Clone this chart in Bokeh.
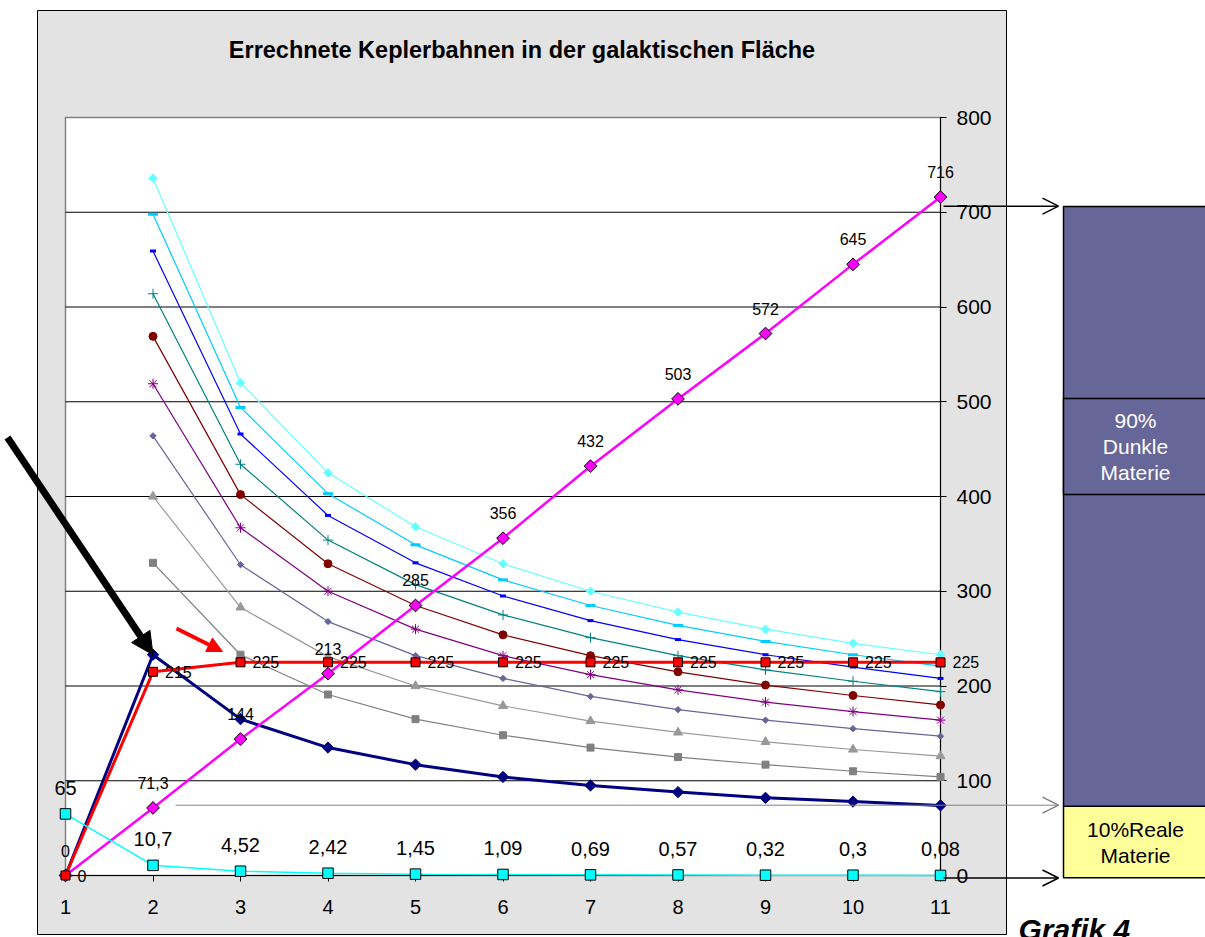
from bokeh.plotting import figure
from bokeh.models import Range1d, LinearAxis, FixedTicker, Arrow, OpenHead, NormalHead
from bokeh.core.properties import value
from bokeh.embed import file_html
from bokeh.resources import INLINE

# ---------------- data ----------------
categories = [1, 2, 3, 4, 5, 6, 7, 8, 9, 10, 11]
kepler_x = categories[1:]

curve_lightcyan = [736, 520, 425, 368, 329, 300, 278, 260, 245, 233]
curve_skyblue = [698, 494, 403, 349, 312, 285, 264, 247, 233, 221]
curve_blue = [659, 466, 380, 330, 295, 269, 249, 233, 220, 208]
curve_teal = [614, 434, 354, 307, 275, 251, 232, 217, 205, 194]
curve_darkred = [569, 402, 329, 285, 254, 232, 215, 201, 190, 180]
curve_purple = [519, 367, 300, 260, 232, 212, 196, 183, 173, 164]
curve_slate = [464, 328, 268, 232, 208, 189, 175, 164, 155, 147]
curve_grey_tri = [400, 283, 231, 200, 179, 163, 151, 141, 133, 126]
curve_grey_sq = [330, 233, 191, 165, 148, 135, 125, 117, 110, 104]

navy_kepler = [0, 233, 165, 135, 117, 104, 95, 88, 82, 78, 74]
pink_linear = [0, 71.3, 144, 213, 285, 356, 432, 503, 572, 645, 716]
red_flat = [0, 215, 225, 225, 225, 225, 225, 225, 225, 225, 225]
cyan_real = [65, 10.7, 4.52, 2.42, 1.45, 1.09, 0.69, 0.57, 0.32, 0.3, 0.08]

y_ticks = [0, 100, 200, 300, 400, 500, 600, 700, 800]

matter_edges = [-2.5, 73, 706]          # stacked bar: real matter / dark matter
matter_colors = ["#FFFF99", "#666699"]
matter_text = ["10%Reale\nMaterie", "90%\nDunkle\nMaterie"]

title_text = "Errechnete Keplerbahnen in der galaktischen Fläche"
caption_text = "Grafik 4"

# ---------------- page geometry ----------------
W, H = 1205, 937
FIG_L, FIG_T = 0, 0           # page offset of the figure
X1_PAGE, PX_PER_X = 65.0, 87.5
Y0_PAGE, PX_PER_Y = 875.0, 758.0 / 800.0


def dx(px):
    return 1 + (px - X1_PAGE) / PX_PER_X


def dy(py):
    return (Y0_PAGE - py) / PX_PER_Y


x_start = dx(FIG_L)
x_end = x_start + W / PX_PER_X
y_end = dy(FIG_T)
y_start = y_end - H / PX_PER_Y

FONT = value("Liberation Sans")


def fmt(v):
    return f"{v:g}".replace(".", ",")


p = figure(width=W, height=H, output_backend="svg", toolbar_location=None,
           x_range=Range1d(x_start, x_end), y_range=Range1d(y_start, y_end),
           x_axis_location=None, y_axis_location=None, min_border=0,
           tools="")
p.outline_line_color = None
p.background_fill_color = "white"
p.border_fill_color = "white"
p.xgrid.visible = False
p.ygrid.visible = False

# chart area & plot area backgrounds
r = p.quad(left=dx(37), right=dx(1006), bottom=dy(934), top=dy(10),
           fill_color="#E3E3E3", line_color="black", line_width=1)
r.level = "image"
r = p.quad(left=categories[0], right=categories[-1], bottom=y_ticks[0], top=y_ticks[-1],
           fill_color="white", line_color="#808080", line_width=1.5)
r.level = "image"

# axes
xax = LinearAxis(fixed_location=0, bounds=(categories[0], categories[-1]),
                 ticker=FixedTicker(ticks=categories))
yax = LinearAxis(fixed_location=categories[-1], bounds=(y_ticks[0], y_ticks[-1]),
                 ticker=FixedTicker(ticks=y_ticks))
for ax, fs, so in ((xax, "20px", 18), (yax, "21px", 10)):
    ax.major_tick_out = 6
    ax.major_tick_in = 0
    ax.minor_tick_line_color = None
    ax.axis_line_color = "black"
    ax.major_tick_line_color = "black"
    ax.major_label_text_font = "Liberation Sans"
    ax.major_label_text_font_size = fs
    ax.major_label_text_color = "black"
    ax.major_label_standoff = so
    ax.level = "underlay"
p.add_layout(xax, "below")
p.add_layout(yax, "right")

# gridlines
gy = y_ticks[1:-1]
p.segment(x0=[categories[0]] * len(gy), x1=[categories[-1]] * len(gy), y0=gy, y1=gy,
          line_color="black", line_width=1)

# Kepler family curves
curves = [
    (curve_grey_sq, "#808080", "square", 7, 0),
    (curve_grey_tri, "#999999", "triangle", 9, 0),
    (curve_slate, "#666699", "square", 4.5, 45),
    (curve_purple, "#800080", "asterisk", 10, 0),
    (curve_darkred, "#800000", "circle", 8, 0),
    (curve_teal, "#008080", "cross", 10, 0),
    (curve_blue, "#0000FF", "dash", 6, 0),
    (curve_skyblue, "#00CCFF", "dash", 10, 0),
    (curve_lightcyan, "#66FFFF", "square", 6, 45),
]
for vals, col, mk, sz, ang in curves:
    p.line(kepler_x, vals, line_color=col, line_width=1.2)
    lw = 3 if mk == "dash" else 1
    p.scatter(kepler_x, vals, marker=mk, size=sz, angle=ang, angle_units="deg",
              fill_color=col, line_color=col, line_width=lw)

# navy
p.line(categories, navy_kepler, line_color="#000080", line_width=3)
p.scatter(categories, navy_kepler, marker="square", angle=45, angle_units="deg", size=8,
          fill_color="#000080", line_color="#000080")
# pink
p.line(categories, pink_linear, line_color="#FF00FF", line_width=2.5)
p.scatter(categories, pink_linear, marker="square", angle=45, angle_units="deg", size=9,
          fill_color="#FF00FF", line_color="black", line_width=1)
# red
p.line(categories, red_flat, line_color="#FF0000", line_width=3)
p.scatter(categories, red_flat, marker="square", size=9,
          fill_color="#FF0000", line_color="black", line_width=1)
# cyan
p.line(categories, cyan_real, line_color="#00FFFF", line_width=1.5)
p.scatter(categories, cyan_real, marker="square", size=10.5,
          fill_color="#00FFFF", line_color="black", line_width=1)

# data labels
p.text(categories, pink_linear, text=[fmt(v) for v in pink_linear], text_align="center",
       text_baseline="middle", y_offset=-25, text_font=FONT, text_font_size="16px",
       text_color="black")
p.text(categories, red_flat, text=[fmt(v) for v in red_flat], text_align="left",
       text_baseline="middle", x_offset=12, text_font=FONT, text_font_size="16px",
       text_color="black")
p.text(categories, cyan_real, text=[fmt(v) for v in cyan_real], text_align="center",
       text_baseline="middle", y_offset=-26, text_font=FONT, text_font_size="20px",
       text_color="black")

# title
p.text([dx(521.5)], [dy(49)], text=[title_text], text_align="center",
       text_baseline="alphabetic", text_font=FONT, text_font_size="23.5px",
       text_font_style="bold", text_color="black")

# matter bar
bar_l, bar_r = dx(1063), dx(1210)
p.quad(left=bar_l, right=bar_r, bottom=matter_edges[:-1], top=matter_edges[1:],
       fill_color=matter_colors, line_color="black", line_width=1.5)
p.quad(left=bar_l, right=bar_r, bottom=dy(494), top=dy(398),
       fill_color=matter_colors[1], line_color="black", line_width=1.5)
p.text([dx(1135)], [dy(842)], text=[matter_text[0]], text_align="center",
       text_baseline="middle", text_font=FONT, text_font_size="21px",
       text_color="black", text_line_height=1.15)
p.text([dx(1135)], [dy(446)], text=[matter_text[1]], text_align="center",
       text_baseline="middle", text_font=FONT, text_font_size="21px",
       text_color="white", text_line_height=1.15)

# caption
p.text([dx(1018)], [dy(929)], text=[caption_text], text_align="left",
       text_baseline="alphabetic", text_font=FONT, text_font_size="30px",
       text_font_style="bold italic", text_color="black")

# arrows
p.add_layout(Arrow(end=NormalHead(size=22, fill_color="black", line_color="black"),
                   x_start=dx(7), y_start=dy(437), x_end=categories[1], y_end=navy_kepler[1],
                   line_color="black", line_width=7))
p.add_layout(Arrow(end=NormalHead(size=15, fill_color="#FF0000", line_color="#FF0000"),
                   x_start=dx(176), y_start=dy(628), x_end=dx(222), y_end=dy(651),
                   line_color="#FF0000", line_width=4))
for ypx, col in ((205.7, "black"), (877.5, "black"), (804.7, "#808080")):
    xs = 175 if col == "#808080" else 943
    p.add_layout(Arrow(end=OpenHead(size=16, line_color=col, line_width=1.5),
                       x_start=dx(xs), y_start=dy(ypx), x_end=dx(1058), y_end=dy(ypx),
                       line_color=col, line_width=1.5 if col == "black" else 1))

open("out.html", "w").write(file_html(p, INLINE))
